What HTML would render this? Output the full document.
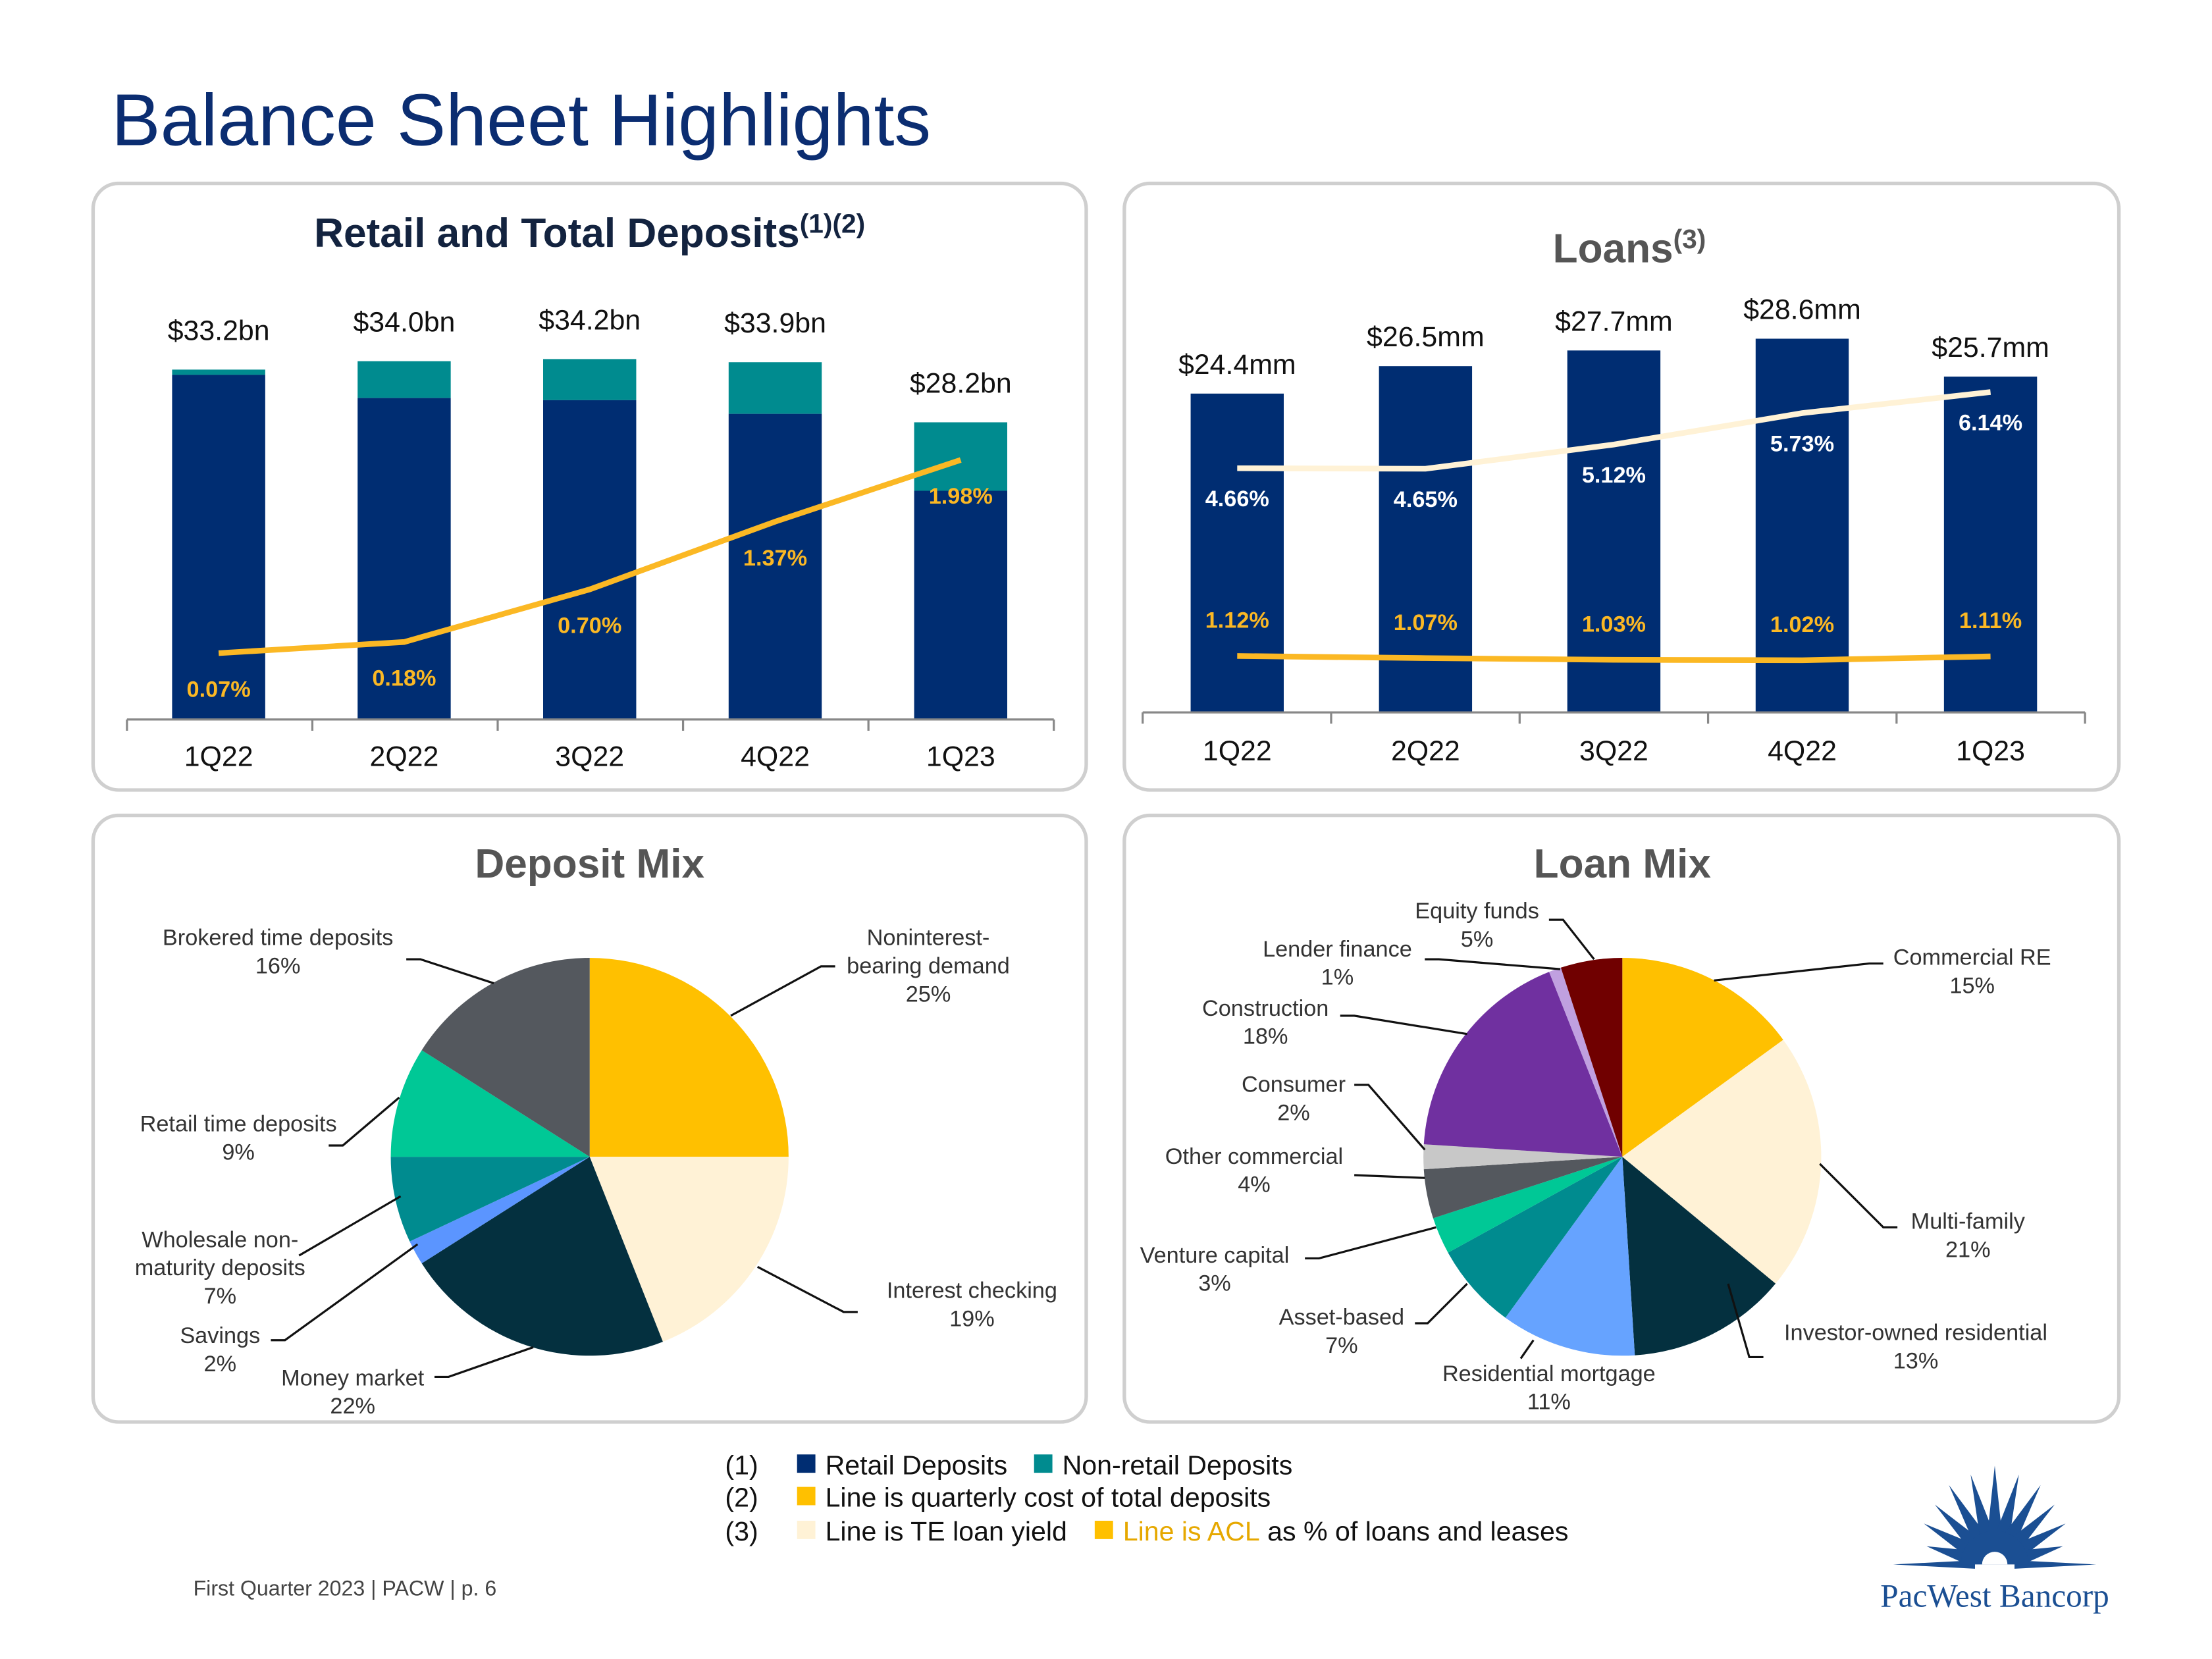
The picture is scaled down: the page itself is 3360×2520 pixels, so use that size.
<!DOCTYPE html>
<html><head><meta charset="utf-8"><style>
html,body{margin:0;padding:0;background:#fff}
svg{display:block}
text{font-family:"Liberation Sans",sans-serif}
</style></head><body>
<svg id="s" width="3360" height="2520" viewBox="0 0 1568 1176" xmlns="http://www.w3.org/2000/svg">
<text x="79" y="103" font-size="52" fill="#0b2d71">Balance Sheet Highlights</text>
<rect x="66" y="130" width="704" height="430" rx="18" fill="none" stroke="#cfcfcf" stroke-width="2.5"/>
<rect x="797" y="130" width="705" height="430" rx="18" fill="none" stroke="#cfcfcf" stroke-width="2.5"/>
<rect x="66" y="578" width="704" height="430" rx="18" fill="none" stroke="#cfcfcf" stroke-width="2.5"/>
<rect x="797" y="578" width="705" height="430" rx="18" fill="none" stroke="#cfcfcf" stroke-width="2.5"/>
<text x="418" y="175" font-size="29" font-weight="bold" fill="#13233f" text-anchor="middle">Retail and Total Deposits<tspan font-size="19" dy="-10">(1)(2)</tspan></text>
<text x="1155" y="186" font-size="29" font-weight="bold" fill="#555" text-anchor="middle">Loans<tspan font-size="19" dy="-10">(3)</tspan></text>
<text x="418" y="622" font-size="29" font-weight="bold" fill="#555" text-anchor="middle">Deposit Mix</text>
<text x="1150" y="622" font-size="29" font-weight="bold" fill="#555" text-anchor="middle">Loan Mix</text>
<g id="c1"></g><g id="c2"></g><g id="p1"></g><g id="p2"></g>
<g font-size="16" fill="#333" text-anchor="middle">
<text x="197" y="670">Brokered time deposits</text><text x="197" y="690">16%</text>
<text x="658" y="670">Noninterest-</text><text x="658" y="690">bearing demand</text><text x="658" y="710">25%</text>
<text x="169" y="802">Retail time deposits</text><text x="169" y="822">9%</text>
<text x="156" y="884">Wholesale non-</text><text x="156" y="904">maturity deposits</text><text x="156" y="924">7%</text>
<text x="156" y="952">Savings</text><text x="156" y="972">2%</text>
<text x="250" y="982">Money market</text><text x="250" y="1002">22%</text>
<text x="689" y="920">Interest checking</text><text x="689" y="940">19%</text>
<text x="1047" y="651">Equity funds</text><text x="1047" y="671">5%</text>
<text x="948" y="678">Lender finance</text><text x="948" y="698">1%</text>
<text x="897" y="720">Construction</text><text x="897" y="740">18%</text>
<text x="917" y="774">Consumer</text><text x="917" y="794">2%</text>
<text x="889" y="825">Other commercial</text><text x="889" y="845">4%</text>
<text x="861" y="895">Venture capital</text><text x="861" y="915">3%</text>
<text x="951" y="939">Asset-based</text><text x="951" y="959">7%</text>
<text x="1098" y="979">Residential mortgage</text><text x="1098" y="999">11%</text>
<text x="1398" y="684">Commercial RE</text><text x="1398" y="704">15%</text>
<text x="1395" y="871">Multi-family</text><text x="1395" y="891">21%</text>
<text x="1358" y="950">Investor-owned residential</text><text x="1358" y="970">13%</text>
</g>
<g fill="none" stroke="#111" stroke-width="1.5">
<polyline points="288,680 298,680 350,697"/><polyline points="592,685 582,685 518,720"/>
<polyline points="233,812 243,812 283,778"/><polyline points="212,890 284,848"/>
<polyline points="192,950 202,950 296,882"/><polyline points="308,976 318,976 378,955"/>
<polyline points="608,930 598,930 537,898"/>
<polyline points="1098,652 1108,652 1130,680"/><polyline points="1010,680 1020,680 1106,687"/>
<polyline points="950,720 960,720 1040,733"/><polyline points="960,769 970,769 1010,815"/>
<polyline points="960,833 1010,835"/><polyline points="925,892 935,892 1018,870"/>
<polyline points="1003,938 1012,938 1040,910"/><polyline points="1078,963 1087,950"/>
<polyline points="1335,683 1325,683 1215,695"/><polyline points="1345,870 1335,870 1290,825"/>
<polyline points="1250,962 1240,962 1225,910"/>
</g>
<g font-size="19.2" fill="#111">
<text x="514" y="1045">(1)</text><rect x="565" y="1031" width="13" height="13" fill="#002d72"/><text x="585" y="1045">Retail Deposits</text>
<rect x="733" y="1031" width="13" height="13" fill="#008b8f"/><text x="753" y="1045">Non-retail Deposits</text>
<text x="514" y="1068">(2)</text><rect x="565" y="1054" width="13" height="13" fill="#ffc000"/><text x="585" y="1068">Line is quarterly cost of total deposits</text>
<text x="514" y="1092">(3)</text><rect x="565" y="1078" width="13" height="13" fill="#fff2d6"/><text x="585" y="1092">Line is TE loan yield</text>
<rect x="776" y="1078" width="13" height="13" fill="#ffc000"/><text x="796" y="1092"><tspan fill="#e6a800">Line is ACL</tspan> as % of loans and leases</text>
</g>
<text x="137" y="1131" font-size="15" fill="#444">First Quarter 2023 | PACW | p. 6</text>
<g id="logo" fill="#1b4f93"></g>
<text x="1414" y="1139" font-size="23" fill="#1b4f93" text-anchor="middle" style="font-family:'Liberation Serif',serif">PacWest Bancorp</text>
</svg>
<script>
const NS="http://www.w3.org/2000/svg";
const quarters=["1Q22","2Q22","3Q22","4Q22","1Q23"];
const depTotal=[33.2,34.0,34.2,33.9,28.2];
const depRetail=[32.7,30.5,30.3,29.0,21.7];
const depCost=[0.07,0.18,0.70,1.37,1.98];
const depLabels=["$33.2bn","$34.0bn","$34.2bn","$33.9bn","$28.2bn"];
const loanTotal=[24.4,26.5,27.7,28.6,25.7];
const loanLabels=["$24.4mm","$26.5mm","$27.7mm","$28.6mm","$25.7mm"];
const loanYield=[4.66,4.65,5.12,5.73,6.14];
const loanAcl=[1.12,1.07,1.03,1.02,1.11];
const depMixNames=["Noninterest-bearing demand","Interest checking","Money market","Savings","Wholesale non-maturity deposits","Retail time deposits","Brokered time deposits"];
const depMixVals=[25,19,22,2,7,9,16];
const depMixColors=["#ffc000","#fff2d6","#04303f","#5b95ff","#008b8f","#00c896","#54585e"];
const loanMixNames=["Commercial RE","Multi-family","Investor-owned residential","Residential mortgage","Asset-based","Venture capital","Other commercial","Consumer","Construction","Lender finance","Equity funds"];
const loanMixVals=[15,21,13,11,7,3,4,2,18,1,5];
const loanMixColors=["#ffc000","#fff2d6","#04303f","#66a3ff","#008b8f","#00c896","#54585e","#c8c8c8","#7030a0","#c0a0e0","#700000"];

function mk(tag,attrs,parent,txt){const e=document.createElementNS(NS,tag);for(const k in attrs)e.setAttribute(k,attrs[k]);if(txt!==undefined)e.textContent=txt;parent.appendChild(e);return e;}

(function(){
 const g=document.getElementById('c1');
 const x0=155,dx=131.5,base=510,sy=248/33.2;
 const X=i=>x0+i*dx, Y=v=>base-v*sy, L=v=>468-v*71.7;
 quarters.forEach((q,i)=>{
  let r=mk('rect',{x:X(i)-33,y:Y(depTotal[i]),width:66,height:(depTotal[i]-depRetail[i])*sy,fill:'#008b8f'},g);
  
  
  r=mk('rect',{x:X(i)-33,y:Y(depRetail[i]),width:66,height:depRetail[i]*sy,fill:'#002d72'},g);
  
  
  let t=mk('text',{x:X(i),y:Y(depTotal[i])-21,'font-size':20,fill:'#111','text-anchor':'middle'},g,depLabels[i]);
  
  
  t=mk('text',{x:X(i),y:base+33,'font-size':20,fill:'#111','text-anchor':'middle'},g,q);
  
  
 });
 const ax=mk('path',{d:'M90,510H747'+[0,1,2,3,4,5].map(k=>'M'+(90+k*131.4)+',510V518').join(''),stroke:'#888','stroke-width':1.5,fill:'none'},g);
 
 
 const ln=mk('polyline',{points:depCost.map((v,i)=>X(i)+','+L(v)).join(' '),fill:'none',stroke:'#fbb824','stroke-width':4},g);
 
 
 depCost.forEach((v,i)=>{
  const t=mk('text',{x:X(i),y:L(v)+31,'font-size':16,'font-weight':'bold',fill:'#fbb824','text-anchor':'middle'},g,v.toFixed(2)+'%');
  
  
 });
})();

(function(){
 const g=document.getElementById('c2');
 const x0=877,dx=133.5,base=505,sy=226/24.4;
 const X=i=>x0+i*dx, Y=v=>base-v*sy, LY=v=>502-v*36.5, LA=v=>498.6-v*30;
 quarters.forEach((q,i)=>{
  let r=mk('rect',{x:X(i)-33,y:Y(loanTotal[i]),width:66,height:loanTotal[i]*sy,fill:'#002d72'},g);
  
  
  let t=mk('text',{x:X(i),y:Y(loanTotal[i])-14,'font-size':20,fill:'#111','text-anchor':'middle'},g,loanLabels[i]);
  
  
  t=mk('text',{x:X(i),y:base+34,'font-size':20,fill:'#111','text-anchor':'middle'},g,q);
  
  
 });
 const ax=mk('path',{d:'M810,505H1478'+[0,1,2,3,4,5].map(k=>'M'+(810+k*133.6)+',505V513').join(''),stroke:'#888','stroke-width':1.5,fill:'none'},g);
 
 
 let ln=mk('polyline',{points:loanYield.map((v,i)=>X(i)+','+LY(v)).join(' '),fill:'none',stroke:'#fff2d6','stroke-width':4},g);
 
 
 ln=mk('polyline',{points:loanAcl.map((v,i)=>X(i)+','+LA(v)).join(' '),fill:'none',stroke:'#fbb824','stroke-width':4},g);
 
 
 loanYield.forEach((v,i)=>{
  const t=mk('text',{x:X(i),y:LY(v)+27,'font-size':16,'font-weight':'bold',fill:'#fff','text-anchor':'middle'},g,v.toFixed(2)+'%');
  
  
 });
 loanAcl.forEach((v,i)=>{
  const t=mk('text',{x:X(i),y:LA(v)-20,'font-size':16,'font-weight':'bold',fill:'#fbb824','text-anchor':'middle'},g,v.toFixed(2)+'%');
  
  
 });
})();

function pie(id,cx,cy,r,vals,cols,names){
 const g=document.getElementById(id);
 const tot=vals.reduce((a,b)=>a+b,0);let a=0;
 vals.forEach((v,i)=>{
  const a0=a/tot*2*Math.PI,a1=(a+v)/tot*2*Math.PI;a+=v;
  const p=t=>[cx+r*Math.sin(t),cy-r*Math.cos(t)];
  const s=p(a0),e=p(a1);
  const sl=mk('path',{d:`M${cx},${cy}L${s[0]},${s[1]}A${r},${r} 0 ${a1-a0>Math.PI?1:0} 1 ${e[0]},${e[1]}Z`,fill:cols[i]},g);
  
  
 });
}
pie('p1',418,820,141,depMixVals,depMixColors,depMixNames);
pie('p2',1150,820,141,loanMixVals,loanMixColors,loanMixNames);

(function(){
 const g=document.getElementById('logo');
 const cx=1414,cy=1109;
 const lens=[72,50,58,60,65,66,70,66,65,60,58,50,72];
 lens.forEach((L,k)=>{
  const ang=Math.PI*k/12;
  const dxv=-Math.cos(ang),dyv=-Math.sin(ang);
  const w=(k===0||k===12)?3:6;
  const px=-dyv,py=dxv;
  const b1=[cx+px*w+dxv*14,cy+py*w+dyv*14],b2=[cx-px*w+dxv*14,cy-py*w+dyv*14];
  mk('polygon',{points:`${b1} ${b2} ${cx+dxv*L},${cy+dyv*L}`},g);
 });
 mk('path',{d:`M${cx-24},${cy}A24,24 0 0 1 ${cx+24},${cy}Z`},g);
 mk('path',{d:`M${cx-9},${cy}A9,9 0 0 1 ${cx+9},${cy}Z`,fill:'#fff'},g);
})();
</script>
</body></html>
